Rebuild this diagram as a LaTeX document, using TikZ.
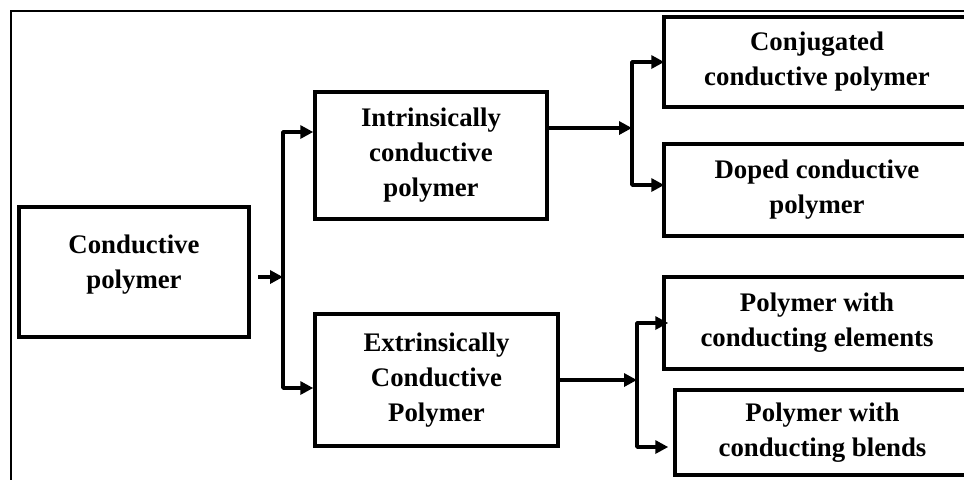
\documentclass[tikz,border=0pt]{standalone}
\usepackage{fontspec}
\setmainfont{Liberation Serif}
\usetikzlibrary{arrows.meta,positioning}

\begin{document}
\begin{tikzpicture}[x=0.5pt,y=-0.5pt,
    block/.style={rectangle, draw, line width=1.75pt, align=center, inner sep=0pt,
        font=\fontsize{13.4}{17.5}\selectfont\bfseries},
    link/.style={line width=1.75pt, line join=round, -{Triangle[length=6.5pt,width=6.5pt]}}]

    \useasboundingbox (0,0) rectangle (964,479);

        % Frame
    \draw [line width=1.1pt] (11,500) -- (11,11) -- (990,11);

        % Nodes
    \node (conductive) [block, minimum width=115pt, minimum height=65pt] at (134,272) {Conductive\\polymer\\[-7.5pt]};
    \node (intrinsic) [block, minimum width=116pt, minimum height=63.5pt] at (431,155.5) {Intrinsically\\conductive\\polymer};
    \node (extrinsic) [block, minimum width=121.5pt, minimum height=66pt] at (436.5,380) {Extrinsically\\Conductive\\Polymer};
    \node (conjugated) [block, minimum width=153pt, minimum height=45pt] at (817,62) {Conjugated\\conductive polymer};
    \node (doped) [block, minimum width=153pt, minimum height=46pt] at (817,190) {Doped conductive\\polymer};
    \node (elements) [block, minimum width=153pt, minimum height=46pt] at (817,323) {Polymer with\\conducting elements};
    \node (blends) [block, minimum width=147.5pt, minimum height=42.5pt] at (822.5,432.5) {Polymer with\\conducting blends};

        % Junctions
    \coordinate (start) at (258,277);
    \coordinate (split1) at (283,277);
    \coordinate (split2) at (632,128);
    \coordinate (split3) at (637,380);

        % Arrows
    \draw [link] (start) -- (split1);
    \draw [link] (split1) |- ([yshift=11.75pt]intrinsic.west);
    \draw [link] (split1) |- ([yshift=-4pt]extrinsic.west);
    \draw [link] ([yshift=13.75pt]intrinsic.east) -- (split2);
    \draw [link] (split2) |- ([xshift=1pt]conjugated.west);
    \draw [link] (split2) |- ([xshift=1pt,yshift=2.5pt]doped.west);
    \draw [link] (extrinsic.east) -- (split3);
    \draw [link] (split3) |- ([xshift=3pt]elements.west);
    \draw [link] (split3) |- ([xshift=-2.5pt,yshift=-7.25pt]blends.west);

\end{tikzpicture}
\end{document}
